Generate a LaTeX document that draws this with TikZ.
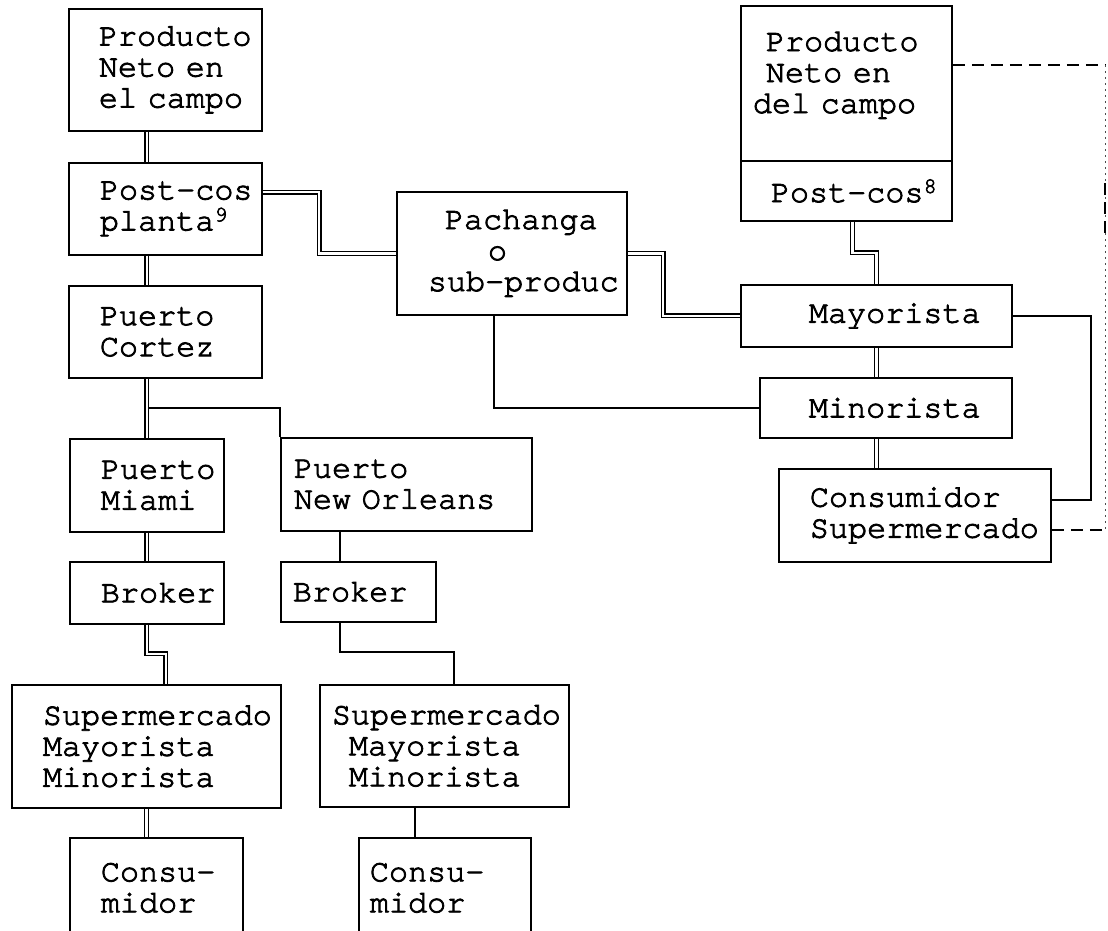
\documentclass[tikz,border=0pt]{standalone}
\usepackage{fontspec}
\setmainfont{TeX Gyre Cursor}[FakeBold=2.6]
\usetikzlibrary{calc}

\newcommand{\letra}{\fontsize{31.8pt}{31pt}\selectfont
  \fontdimen2\font=0.6em \fontdimen3\font=0pt \fontdimen4\font=0pt}

\tikzset{
  caja/.style n args={3}{draw, line width=1.8pt, anchor=north west,
    minimum width=#1, minimum height=#2, text width=#1,
    inner xsep=0pt, inner ysep=2pt, align=left, font=\letra,
    execute at begin node={\leftskip=#3}},
  dbl/.style={double, line width=1.2pt, double distance=2.6pt},
  sgl/.style={line width=1.9pt},
  dsh/.style={line width=1.8pt, dash pattern=on 12pt off 7pt},
  punteado/.style={line width=1pt, black!70, dash pattern=on 1.5pt off 4.5pt}
}

\begin{document}
\begin{tikzpicture}[x=1pt,y=-1pt]
  \useasboundingbox (0,0) rectangle (1108,930);

  % cadena de exportacion
  \node[caja={193pt}{122pt}{30pt}] (campo) at (68,8) {Producto\\Neto en\\el campo};
  \node[caja={193pt}{92pt}{31pt}] (planta) at (68,162) {Post-cos\\planta\textsuperscript{9}};
  \node[caja={193pt}{92pt}{31pt}] (cortez) at (68,285) {Puerto\\Cortez};

  \node[caja={154pt}{93pt}{31pt}] (miami) at (69,438) {Puerto\\Miami};
  \node[caja={154pt}{62pt}{31pt}] (brokm) at (69,561) {Broker};
  \node[caja={269pt}{123pt}{31pt}] (supm) at (11,684) {Supermercado\\Mayorista\\Minorista};
  \node[caja={173pt}{100pt}{31pt}] (consm) at (69,837) {Consu-\\midor};

  \node[caja={251pt}{93pt}{13pt}] (orleans) at (280,437) {Puerto\\New Orleans};
  \node[caja={155pt}{60pt}{12pt}] (broko) at (280,561) {Broker};
  \node[caja={249pt}{122pt}{12pt}] (supo) at (319,684) {Supermercado\\\hspace*{17pt}Mayorista\\\hspace*{17pt}Minorista};
  \node[caja={172pt}{100pt}{11pt}] (conso) at (358,837) {Consu-\\midor};

  \node[caja={230pt}{123pt}{31pt}] (pach) at (396,191) {\hspace*{17pt}Pachanga\\\hspace*{60pt}o\\sub-produc};

  % mercado local
  \node[caja={211pt}{155pt}{12pt}, text depth=84pt] (campo2) at (740,5) {\hspace*{13pt}Producto\\\hspace*{13pt}Neto en\\del campo};
  \node[caja={211pt}{60pt}{30pt}] (post2) at (740,160) {Post-cos\textsuperscript{8}};
  \node[caja={271pt}{62pt}{68pt}] (mayor) at (740,284) {Mayorista};
  \node[caja={252pt}{60pt}{49pt}] (minor) at (759,377) {Minorista};
  \node[caja={272pt}{93pt}{31pt}] (consup) at (778,468) {Consumidor\\Supermercado};

  \coordinate (tr) at (1105,65);
  \coordinate (br) at (1105,530);
  \coordinate (split) at ($(miami.north |- cortez.south)!0.5!(miami.north)$);

  % conexiones simples
  \draw[sgl] (split) -| (orleans.north west);
  \draw[sgl] ([xshift=-18.5pt]broko.north |- orleans.south) -- ([xshift=-18.5pt]broko.north);
  \draw[sgl] ([xshift=-18.5pt]broko.south) -- ++(0,29) -| ([xshift=9.5pt]supo.north);
  \draw[sgl] ([xshift=-29.5pt]supo.south) -- ([xshift=-29.5pt]supo.south |- conso.north);
  \draw[sgl] ([xshift=-18pt]pach.south) |- (minor.west);
  \draw[sgl] (mayor.east) -| ([xshift=39pt,yshift=15.5pt]consup.east) -- ([yshift=15.5pt]consup.east);

  % conexiones dobles
  \draw[dbl] ([xshift=-18.5pt]campo.south) -- ([xshift=-18.5pt]planta.north);
  \draw[dbl] ([xshift=-18.5pt]planta.south) -- ([xshift=-18.5pt]cortez.north);
  \draw[dbl] (miami.north |- cortez.south) -- (miami.north);
  \draw[dbl] (miami) -- (brokm);
  \draw[dbl] (brokm.south) -- ++(0,29) -| ([xshift=19.5pt]supm.north);
  \draw[dbl] (supm.south) -- (supm.south |- consm.north);
  \draw[dbl] ([yshift=-30pt]planta.north east) -| ([xshift=-77pt]pach.west) -- (pach.west);
  \draw[dbl] (pach.east) -| ([xshift=-77pt]mayor.west) -- (mayor.west);
  \draw[dbl] ([xshift=6pt]post2.south) -- ++(0,31) -| (mayor.north);
  \draw[dbl] (mayor.south) -- (mayor.south |- minor.north);
  \draw[dbl] (mayor.south |- minor.south) -- (mayor.south |- consup.north);

  % retorno punteado
  \draw[dsh] (campo2.east |- tr) -- (tr);
  \draw[punteado] (tr) -- (br);
  \draw[dsh] ($(tr)!0.254!(br)$) -- ($(tr)!0.361!(br)$);
  \draw[dsh] (consup.east |- br) -- (br);
\end{tikzpicture}
\end{document}
